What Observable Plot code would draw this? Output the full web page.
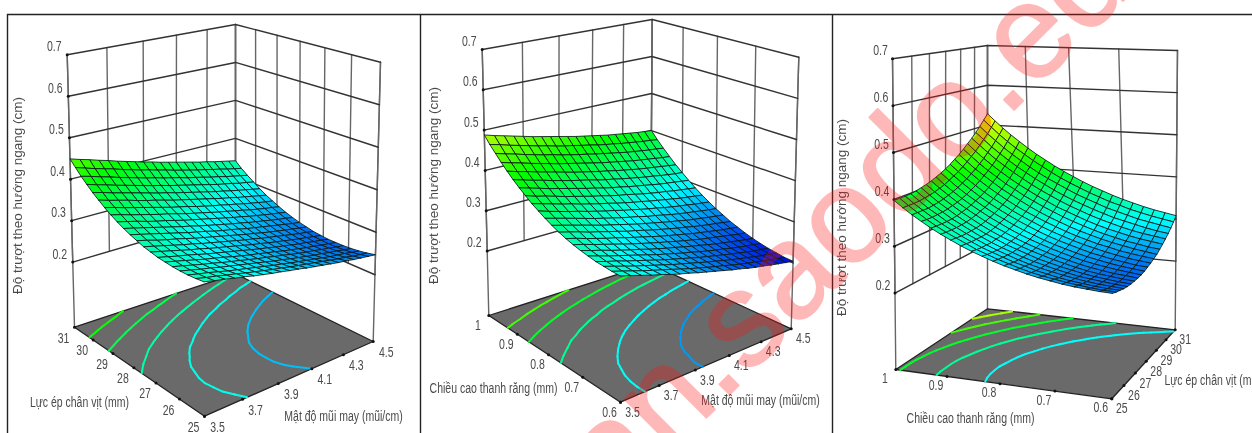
<!DOCTYPE html>
<html><head><meta charset="utf-8">
<style>html,body{margin:0;padding:0;background:#fff;overflow:hidden}</style>
<script src="https://cdn.jsdelivr.net/npm/d3@7"></script>
<script src="https://cdn.jsdelivr.net/npm/@observablehq/plot@0.6"></script>
</head><body><div id="chart"></div>
<script>
// ---- values ----
const densityTicks = [3.5, 3.7, 3.9, 4.1, 4.3, 4.5];
const pressureTicks = [25, 26, 27, 28, 29, 30, 31];
const heightTicks = [0.6, 0.7, 0.8, 0.9, 1];
const responseTicks = [0.2, 0.3, 0.4, 0.5, 0.6, 0.7];
const responseTitle = "Độ trượt theo hướng ngang (cm)";
const densityTitle = "Mật độ mũi may (mũi/cm)";
const pressureTitle = "Lực ép chân vịt (mm)";
const heightTitle = "Chiều cao thanh răng (mm)";
const watermark = "an.saodo.edu.vn";

// response in thousandths of a cm. rows: pressure 25->31, columns: density 3.5->4.5
const surfaceA = [
[335,329,324,318,313,307,302,297,293,288,284,279,275,271,267,263,260,256,253,250,247],
[332,326,321,315,310,304,299,294,289,285,280,276,272,268,264,260,256,253,249,246,243],
[330,324,319,313,307,302,297,292,287,282,278,273,269,265,261,257,253,250,247,243,240],
[329,323,317,312,306,301,296,291,286,281,276,272,267,263,259,255,252,248,245,241,238],
[329,323,317,311,306,300,295,290,285,280,276,271,267,262,258,254,251,247,244,240,237],
[330,324,318,312,306,301,296,290,285,280,276,271,267,262,258,254,250,247,243,240,237],
[331,325,319,314,308,302,297,292,287,282,277,272,268,263,259,255,251,248,244,241,237],
[334,328,322,316,310,305,299,294,289,284,279,274,270,265,261,257,253,249,246,242,239],
[337,331,325,319,313,308,302,297,292,287,282,277,273,268,264,260,256,252,248,245,241],
[342,336,329,323,318,312,306,301,296,291,286,281,276,272,267,263,259,255,252,248,245],
[347,341,335,329,323,317,311,306,301,295,290,286,281,276,272,268,264,260,256,252,249],
[353,347,341,335,329,323,317,312,306,301,296,291,286,282,277,273,269,265,261,258,254],
[360,354,348,341,335,330,324,318,313,308,303,298,293,288,284,279,275,271,267,264,260],
[368,362,355,349,343,337,332,326,320,315,310,305,300,296,291,287,282,278,274,271,267],
[377,371,364,358,352,346,340,334,329,324,318,313,308,304,299,295,290,286,282,278,275],
[387,380,374,368,361,355,350,344,338,333,328,323,318,313,308,304,299,295,291,287,283],
[397,391,384,378,372,366,360,354,349,343,338,333,328,323,318,314,309,305,301,297,293],
[409,402,396,389,383,377,371,365,360,354,349,344,339,334,329,324,320,316,311,308,304],
[421,415,408,402,395,389,383,377,372,366,361,356,350,346,341,336,332,327,323,319,315],
[435,428,421,415,409,402,396,390,385,379,374,368,363,358,353,349,344,340,335,331,327],
[449,442,436,429,423,416,410,404,398,393,387,382,377,372,367,362,358,353,349,345,341]];
// rows: height 0.6->1, columns: density 3.5->4.5
const surfaceB = [
[324,316,308,300,293,285,278,272,265,259,253,247,241,236,230,225,221,216,212,208,204],
[324,316,308,300,293,286,279,272,265,259,253,247,242,236,231,226,222,217,213,209,205],
[325,317,309,301,294,287,280,273,267,261,255,249,244,238,233,228,224,219,215,211,208],
[326,318,311,303,296,289,282,275,269,263,257,251,246,241,236,231,227,222,218,215,211],
[329,321,313,306,299,292,285,278,272,266,260,255,249,244,239,235,230,226,222,219,215],
[332,324,317,309,302,295,289,282,276,270,265,259,254,249,244,239,235,231,227,223,220],
[336,329,321,314,307,300,293,287,281,275,270,264,259,254,249,245,241,237,233,229,226],
[341,334,326,319,312,306,299,293,287,281,275,270,265,260,255,251,247,243,239,236,233],
[347,340,333,325,319,312,306,299,294,288,282,277,272,267,263,258,254,250,247,243,240],
[354,347,340,333,326,319,313,307,301,295,290,285,280,275,271,266,262,259,255,252,249],
[362,355,348,341,334,327,321,315,309,304,299,293,289,284,279,275,271,268,264,261,258],
[371,363,356,349,343,336,330,324,319,313,308,303,298,294,289,285,281,278,274,271,268],
[380,373,366,359,353,346,340,334,329,323,318,313,309,304,300,296,292,288,285,282,279],
[391,383,377,370,363,357,351,345,340,334,329,325,320,315,311,307,304,300,297,294,291],
[402,395,388,381,375,369,363,357,352,346,341,337,332,328,324,320,316,313,310,307,304],
[414,407,400,394,387,381,375,370,365,359,354,350,345,341,337,333,330,326,323,320,318],
[427,420,414,407,401,395,389,383,378,373,368,364,359,355,351,347,344,341,338,335,332],
[441,434,428,421,415,409,403,398,393,388,383,378,374,370,366,362,359,356,353,350,348],
[456,449,443,436,430,424,419,413,408,403,399,394,390,386,382,378,375,372,369,367,364],
[471,465,458,452,446,440,435,429,424,420,415,411,406,402,399,395,392,389,386,384,381],
[488,481,475,469,463,457,452,447,442,437,432,428,424,420,416,413,410,407,404,402,400]];
// rows: height 0.6->1, columns: pressure 25->31
const surfaceC = [
[251,247,244,241,239,238,238,238,239,241,244,247,251,255,261,267,274,281,289,298,308],
[252,248,245,243,241,240,240,241,242,244,246,250,254,259,264,271,278,285,294,303,313],
[254,250,247,245,244,243,243,243,245,247,250,253,258,263,269,275,282,290,299,308,318],
[256,253,250,248,247,246,246,247,249,251,254,258,262,268,273,280,287,296,304,314,324],
[259,256,253,252,250,250,250,251,253,256,259,263,268,273,279,286,293,302,311,320,331],
[263,260,257,256,255,255,255,256,258,261,264,269,273,279,285,292,300,308,318,328,338],
[267,264,262,261,260,260,261,262,264,267,271,275,280,286,292,299,307,316,325,335,346],
[272,269,267,266,266,266,267,268,271,274,278,282,287,293,300,307,315,324,334,344,355],
[278,275,274,272,272,272,274,275,278,281,285,290,295,301,308,316,324,333,343,353,364],
[284,282,280,279,279,280,281,283,286,289,293,298,304,310,317,325,333,342,352,363,374],
[291,289,288,287,287,288,289,291,294,298,302,307,313,319,327,334,343,352,363,373,385],
[299,297,296,295,295,296,298,300,303,307,312,317,323,329,337,345,354,363,374,384,396],
[307,305,304,304,304,306,307,310,313,317,322,327,333,340,348,356,365,375,385,396,408],
[316,315,314,314,314,315,317,320,324,328,333,338,344,352,359,368,377,387,397,409,421],
[326,325,324,324,325,326,328,331,335,339,344,350,356,364,372,380,390,400,410,422,434],
[336,335,335,335,336,337,340,343,347,351,356,362,369,376,384,393,403,413,424,436,448],
[347,346,346,346,347,349,352,355,359,364,369,375,382,390,398,407,417,427,438,450,463],
[359,358,358,359,360,362,365,368,372,377,383,389,396,404,412,421,431,442,453,465,478],
[371,371,371,371,373,375,378,382,386,391,397,403,411,418,427,436,447,457,469,481,494],
[384,384,384,385,387,389,392,396,400,406,412,418,426,434,443,452,463,474,485,498,511],
[398,398,398,399,401,404,407,411,416,421,427,434,442,450,459,469,479,490,502,515,528]];
const contourLevelsA = [413, 377, 341, 310, 275];
const contourLevelsB = [436, 392, 348, 304, 260];
const contourLevelsC = [482, 437, 392, 347, 302];

// ---- view set-up: where each box sits on the page ----
const panels = [
 {surface: surfaceA, levels: contourLevelsA, sTicks: densityTicks, tTicks: pressureTicks, z0: .043,
  floor: {F:[204,415.7],R:[372.7,341],L:[74,326.7],B:[235,273.3]},
  top: {F:[202.8,113.3],R:[380,61.7],L:[66.7,54.3],B:[235,24]},
  sOff:[13,11], tOff:[-11,11], zOff:[-13,-8],
  titles:[{text:pressureTitle,x:79,y:402},{text:densityTitle,x:343,y:416}],
  zTitle:{x:17,y:195}},
 {surface: surfaceB, levels: contourLevelsB, sTicks: densityTicks, tTicks: heightTicks, z0: .04,
  floor: {F:[620,401.7],R:[790.7,328.3],L:[488.3,315],B:[650,263.3]},
  top: {F:[619.3,108.3],R:[798.3,56.7],L:[481.7,49],B:[651.7,19]},
  sOff:[12,10], tOff:[-11,10], zOff:[-13,-8],
  titles:[{text:heightTitle,x:493,y:388},{text:densityTitle,x:760,y:400}],
  zTitle:{x:433,y:185}},
 {surface: surfaceC, levels: contourLevelsC, sTicks: pressureTicks, tTicks: heightTicks, z0: .037,
  floor: {F:[1111.3,398.3],R:[1174.7,329.3],L:[895.3,369],B:[987,308.3]},
  top: {F:[1112.7,71.7],R:[1177,50],L:[892,58.3],B:[987,45]},
  sOff:[10,10], tOff:[-11,9], zOff:[-12,-8],
  titles:[{text:heightTitle,x:970,y:418}],
  startTitle:{text:pressureTitle,x:1164,y:380},
  zTitle:{x:841,y:217}}
];

// square -> quadrilateral perspective map
function quadMap(q){
  const [x0,y0]=q.F,[x1,y1]=q.R,[x2,y2]=q.B,[x3,y3]=q.L;
  const dx1=x1-x2,dx2=x3-x2,sx=x0-x1+x2-x3,dy1=y1-y2,dy2=y3-y2,sy=y0-y1+y2-y3;
  const det=dx1*dy2-dx2*dy1;
  const g=(sx*dy2-dx2*sy)/det,h=(dx1*sy-sx*dy1)/det;
  const a=x1-x0+g*x1,b=x3-x0+h*x3,d=y1-y0+g*y1,e=y3-y0+h*y3;
  return (s,t)=>{const w=g*s+h*t+1;return [(a*s+b*t+x0)/w,(d*s+e*t+y0)/w];};
}
const zMax = d3.max(responseTicks);
for (const p of panels){
  const fl=quadMap(p.floor),tp=quadMap(p.top);
  p.at=(s,t,z)=>{const a=fl(s,t),b=tp(s,t),k=(z-p.z0)/(zMax-p.z0);return [a[0]+(b[0]-a[0])*k,a[1]+(b[1]-a[1])*k];};
  p.sOf=v=>(v-p.sTicks[0])/(p.sTicks[p.sTicks.length-1]-p.sTicks[0]);
  p.tOf=v=>(v-p.tTicks[0])/(p.tTicks[p.tTicks.length-1]-p.tTicks[0]);
}

const wallH=[],wallV=[],floors=[],segments=[],cells=[],dots=[],sLabels=[],tLabels=[],zLabels=[];
let id=0;
panels.forEach(p=>{
  const zb=responseTicks[0];
  for(const z of responseTicks){
    id++;
    for(const [s,t] of [[0,1],[1,1],[1,0]]){const [x,y]=p.at(s,t,z);wallH.push({x,y,id});}
    const [x,y]=p.at(0,1,z);dots.push({x,y});zLabels.push({x:x+p.zOff[0],y:y+p.zOff[1],text:z.toFixed(1)});
  }
  const vert=(s,t,z1)=>{id++;for(const z of [z1,zMax]){const [x,y]=p.at(s,t,z);wallV.push({x,y,id});}};
  p.sTicks.forEach(v=>vert(p.sOf(v),1,zb));
  p.tTicks.forEach(v=>vert(1,p.tOf(v),zb));
  vert(0,1,p.z0);vert(1,1,p.z0);vert(1,0,p.z0);
  id++;
  for(const [s,t] of [[0,0],[1,0],[1,1],[0,1],[0,0]]){const [x,y]=p.at(s,t,p.z0);floors.push({x,y,id});}
  p.sTicks.forEach(v=>{const [x,y]=p.at(p.sOf(v),0,p.z0);dots.push({x,y});sLabels.push({x:x+p.sOff[0],y:y+p.sOff[1],text:String(v)});});
  p.tTicks.forEach(v=>{const [x,y]=p.at(0,p.tOf(v),p.z0);dots.push({x,y});tLabels.push({x:x+p.tOff[0],y:y+p.tOff[1],text:String(v)});});
  const G=p.surface,nj=G.length-1,ni=G[0].length-1;
  // contour segments on the floor, found from the table
  for(const lev of p.levels)for(let j=0;j<nj;j++)for(let i=0;i<ni;i++){
    const cs=[[i,j],[i+1,j],[i+1,j+1],[i,j+1]],pts=[];
    for(let k=0;k<4;k++){
      const [a,b]=cs[k],[c,d]=cs[(k+1)%4],va=G[b][a],vb=G[d][c];
      if((va<lev)!==(vb<lev)){const f=(lev-va)/(vb-va);pts.push([(a+(c-a)*f)/ni,(b+(d-b)*f)/nj]);}
    }
    if(pts.length>=2){id++;for(const q of pts.slice(0,2)){const [x,y]=p.at(q[0],q[1],p.z0);segments.push({x,y,id,v:lev/1000});}}
  }
  // mesh cells, far to near
  const list=[];
  for(let j=0;j<nj;j++)for(let i=0;i<ni;i++){
    const mean=(G[j][i]+G[j][i+1]+G[j+1][i]+G[j+1][i+1])/4000;
    list.push({i,j,mean,depth:p.at((i+.5)/ni,(j+.5)/nj,p.z0)[1]});
  }
  list.sort((a,b)=>a.depth-b.depth);
  for(const c of list){
    id++;
    for(const [a,b] of [[c.i,c.j],[c.i+1,c.j],[c.i+1,c.j+1],[c.i,c.j+1],[c.i,c.j]]){
      const [x,y]=p.at(a/ni,b/nj,G[b][a]/1000);cells.push({x,y,id,v:c.mean});
    }
  }
});

const sans='"Liberation Sans",sans-serif';
const tickText={x:"x",y:"y",text:"text",fontFamily:sans,fontSize:14,fill:"#4a4a4a",className:"squeezed"};
const xy={x:"x",y:"y",z:"id"};
const titles=panels.flatMap(p=>p.titles);
const startTitles=panels.filter(p=>p.startTitle).map(p=>p.startTitle);
const zTitles=panels.map(p=>p.zTitle);

const chart=Plot.plot({
  width:1252,height:433,margin:0,
  style:{background:"#fff",filter:"blur(0.55px)"},
  x:{domain:[0,1252],range:[0,1252],axis:null},
  y:{domain:[0,433],range:[0,433],axis:null},
  color:{type:"linear",domain:[.2,.3,.41,.52,.63],range:["#0000e0","#00ffff","#00ff00","#ffff00","#ff0000"],clamp:true},
  marks:[
    Plot.ruleX([7,420,832],{y1:14,y2:433,stroke:"#222",strokeWidth:1.4}),
    Plot.ruleY([14],{x1:7,x2:1252,stroke:"#222",strokeWidth:1.4}),
    Plot.line(wallV,{...xy,stroke:"#666",strokeWidth:1.4}),
    Plot.line(wallH,{...xy,stroke:"#333",strokeWidth:1.4}),
    Plot.line(floors,{...xy,fill:"#6a6a6a",stroke:"#222",strokeWidth:1.3}),
    Plot.line(segments,{...xy,stroke:"v",strokeWidth:2,strokeLinecap:"round"}),
    Plot.dot(dots,{x:"x",y:"y",r:1.5,fill:"#111"}),
    Plot.line(cells,{...xy,fill:"v",stroke:"#081818",strokeWidth:1,strokeOpacity:.85}),
    Plot.text(zLabels,tickText),
    Plot.text(sLabels,tickText),
    Plot.text(tLabels,tickText),
    Plot.text(titles,tickText),
    Plot.text(startTitles,{...tickText,textAnchor:"start"}),
    Plot.text(zTitles,{x:"x",y:"y",text:()=>responseTitle,rotate:-90,fontFamily:sans,fontSize:13.5,fill:"#4a4a4a"}),
    Plot.text([{x:615,y:508}],{x:"x",y:"y",text:()=>watermark,rotate:-45,textAnchor:"start",lineAnchor:"bottom",fontFamily:sans,fontSize:134,fill:"#ff1010",stroke:"#ff1010",strokeWidth:2,opacity:.29})
  ]
});
document.getElementById("chart").append(chart);
// the reference's small labels are horizontally compressed
chart.querySelectorAll(".squeezed text").forEach(t=>{
  t.setAttribute("textLength",(t.getComputedTextLength()*.75).toFixed(1));
  t.setAttribute("lengthAdjust","spacingAndGlyphs");
});
</script></body></html>
